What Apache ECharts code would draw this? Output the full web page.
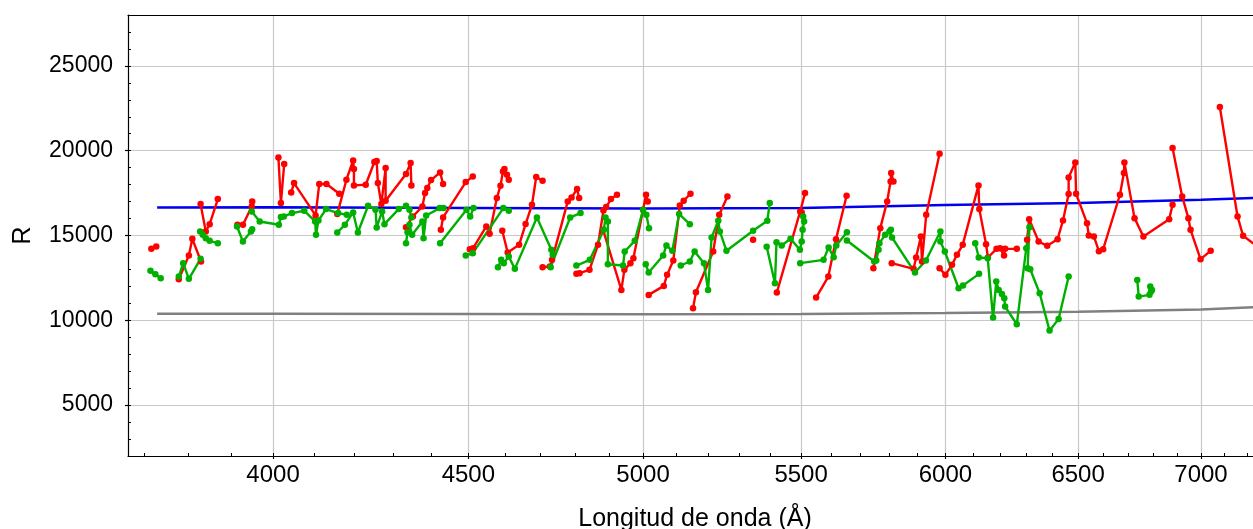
<!DOCTYPE html>
<html>
<head>
<meta charset="utf-8">
<script src="https://cdn.jsdelivr.net/npm/echarts@6/dist/echarts.min.js"></script>
<style>
html,body{margin:0;padding:0;background:#fff}
#chart{width:1253px;height:529px}
</style>
</head>
<body>
<div id="chart"></div>
<script>
// tick labels
const xMajor = [4000, 4500, 5000, 5500, 6000, 6500, 7000];
const xMinor = [3700, 3800, 3900, 4000, 4100, 4200, 4300, 4400, 4500, 4600, 4700, 4800, 4900, 5000,
    5100, 5200, 5300, 5400, 5500, 5600, 5700, 5800, 5900, 6000, 6100, 6200, 6300, 6400, 6500,
    6600, 6700, 6800, 6900, 7000, 7100, 7200];
const yMajor = [5000, 10000, 15000, 20000, 25000];
const yMinor = [3000, 4000, 5000, 6000, 7000, 8000, 9000, 10000, 11000, 12000, 13000, 14000, 15000,
    16000, 17000, 18000, 19000, 20000, 21000, 22000, 23000, 24000, 25000, 26000, 27000, 28000];

// reference curves [wavelength, R]
const blueCurve = [[3730, 16650], [4000, 16660], [4500, 16620], [5000, 16590], [5500, 16620],
    [6000, 16800], [6500, 16910], [7000, 17110], [7262, 17220]];
const grayCurve = [[3730, 10380], [4000, 10380], [4500, 10370], [5000, 10355], [5500, 10370],
    [6000, 10430], [6500, 10500], [7000, 10640], [7262, 10800]];

// echelle orders, red
const redOrders = [
    [[3717, 14214], [3728, 14352]],
    [[3779, 12423], [3802, 13820], [3810, 14804], [3830, 13466]],
    [[3829, 16851], [3841, 15237], [3850, 15670], [3869, 17146]],
    [[3915, 15631], [3928, 15631], [3949, 16713], [3950, 17008]],
    [[4013, 19606], [4019, 16910], [4027, 19213]],
    [[4044, 17540], [4051, 18091], [4104, 16182], [4113, 18032], [4131, 18032], [4163, 17461]],
    [[4158, 16261], [4181, 18288], [4198, 19429], [4200, 18917], [4200, 17953], [4230, 17992],
        [4252, 19331], [4258, 19390], [4261, 18091], [4270, 16851], [4281, 18976], [4281, 17048],
        [4334, 18622], [4346, 19272], [4348, 17953]],
    [[4334, 15493], [4352, 16123], [4377, 16713], [4384, 17500], [4390, 17796], [4400, 18268],
        [4424, 18721], [4432, 18032]],
    [[4426, 15336], [4432, 16064], [4493, 18150], [4512, 18485]],
    [[4504, 14195], [4513, 14254], [4549, 15533], [4558, 15100], [4578, 17206], [4588, 17934],
        [4595, 18780], [4599, 18918], [4606, 18583], [4611, 18288]],
    [[4593, 15277], [4608, 13998], [4640, 14450], [4658, 15671], [4676, 16812], [4688, 18446], [4706, 18229]],
    [[4706, 13132], [4727, 13171], [4733, 13565], [4778, 17009], [4789, 17245], [4805, 17737], [4811, 17206]],
    [[4803, 12738], [4812, 12778], [4841, 12974], [4866, 14450], [4882, 16477], [4890, 16674],
        [4904, 17147], [4922, 17402]],
    [[4881, 15336], [4935, 11794], [4944, 12974], [4962, 13368], [4971, 13663], [5000, 16517],
        [5009, 17402], [5014, 17009]],
    [[5017, 11498], [5063, 12029], [5073, 12679], [5092, 13525], [5112, 16772], [5124, 17048], [5145, 17461]],
    [[5153, 10710], [5162, 11656], [5216, 14056], [5235, 16221], [5261, 17304]],
    [[5343, 14745]],
    [[5420, 11636], [5497, 16418], [5502, 16359], [5513, 17501]],
    [[5550, 11341], [5591, 12581], [5617, 14785], [5653, 17343]],
    [[5745, 13073], [5769, 15434], [5793, 17009], [5805, 18190], [5807, 18682], [5815, 18190]],
    [[5809, 13368], [5886, 13034], [5895, 13703], [5912, 14942], [5916, 13466], [5931, 16222], [5979, 19823]],
    [[5979, 13072], [6000, 12679], [6024, 13269], [6042, 13860], [6063, 14450], [6121, 17953],
        [6124, 16556], [6149, 14489], [6156, 13702], [6188, 14214], [6201, 14253], [6216, 13820],
        [6220, 14214], [6264, 14214]],
    [[6303, 14745], [6311, 15965], [6347, 14647], [6380, 14391], [6420, 14785], [6441, 15886],
        [6463, 17441], [6463, 18425], [6489, 19311], [6492, 17461], [6535, 15729], [6542, 15001],
        [6562, 14942], [6582, 14076], [6599, 14194], [6666, 17402], [6682, 18681], [6684, 19311],
        [6725, 16024], [6761, 14942], [6867, 15965], [6881, 16811]],
    [[6881, 20157], [6921, 17303], [6947, 16024], [6956, 15336], [6998, 13604], [7041, 14096]],
    [[7080, 22578], [7156, 16123], [7180, 14981], [7227, 14509], [7260, 14100]]
];

// echelle orders, green
const greenOrders = [
    [[3715, 12915], [3726, 12718], [3738, 12482]],
    [[3779, 12580], [3789, 13368], [3802, 12443], [3829, 13624]],
    [[3828, 15237], [3834, 15040], [3841, 14844], [3850, 14686], [3869, 14548]],
    [[3914, 15532], [3928, 14647], [3947, 15237], [3950, 15375]],
    [[3949, 16418], [3968, 15828], [4014, 15631], [4019, 16084], [4026, 16123], [4046, 16320],
        [4076, 16458], [4103, 15828], [4105, 15040], [4111, 15887], [4130, 16556], [4160, 16320], [4182, 16221]],
    [[4158, 15178], [4177, 15631], [4198, 16359], [4210, 15178], [4236, 16753], [4255, 16516],
        [4258, 15473], [4272, 16418], [4278, 15670], [4315, 16556], [4334, 16753], [4343, 16516], [4348, 16064]],
    [[4334, 14548], [4338, 15198], [4343, 15631], [4350, 15040], [4377, 15828], [4380, 14844],
        [4387, 16182], [4423, 16615], [4433, 16615]],
    [[4424, 14548], [4495, 16516], [4505, 16123], [4514, 16615]],
    [[4493, 13820], [4512, 13958], [4596, 16615], [4611, 16458]],
    [[4581, 13132], [4590, 13564], [4597, 13368], [4611, 13761], [4628, 13033], [4690, 16064],
        [4731, 14155], [4735, 13860], [4729, 13132], [4785, 16064], [4815, 16320]],
    [[4803, 13230], [4842, 13564], [4883, 15336], [4888, 16064], [4895, 15828], [4895, 13309],
        [4940, 13230], [4945, 14056], [4975, 14686], [5000, 16516], [5010, 16221], [5018, 15434]],
    [[5008, 13309], [5017, 12817], [5061, 13820], [5071, 14411], [5089, 14096], [5110, 16261], [5143, 15670]],
    [[5115, 13230], [5143, 13466], [5158, 14056], [5187, 13368], [5200, 11793], [5211, 14883],
        [5232, 15867], [5237, 15237], [5258, 14096], [5343, 15277], [5389, 15867], [5397, 16910]],
    [[5387, 14332], [5414, 12187], [5419, 14607], [5436, 14411], [5465, 14804], [5496, 14155],
        [5502, 14647], [5505, 15336], [5510, 15828], [5507, 16123]],
    [[5497, 13368], [5575, 13564], [5592, 14292], [5609, 13722], [5618, 14411], [5654, 15198]],
    [[5654, 14706], [5748, 13466], [5755, 13525], [5763, 14155], [5766, 14548], [5786, 15040],
        [5801, 15237], [5806, 15336], [5810, 14883], [5891, 12816], [5930, 13525], [5982, 15237],
        [5982, 14647], [5998, 14056], [6048, 11892], [6064, 12049], [6123, 12738]],
    [[6109, 14548], [6122, 13702], [6155, 13663], [6175, 10160], [6187, 12285], [6196, 11793],
        [6208, 11557], [6217, 11301], [6220, 10809], [6264, 9766], [6300, 14253], [6312, 15493],
        [6305, 13072], [6315, 13013], [6351, 11596], [6389, 9392], [6424, 10081], [6463, 12580]],
    [[6736, 12383], [6742, 11399], [6786, 11500], [6792, 11695], [6796, 11793], [6789, 11990]]
];

// x is drawn on a log scale: feed ln(wavelength) to a value axis
const lnX = p => [Math.log(p[0]), p[1]];
const joinOrders = orders => {
    let out = [];
    orders.forEach((seg, i) => {
        if (i > 0) out.push(['-', '-']);
        seg.forEach(p => out.push(lnX(p)));
    });
    return out;
};

// the right spine of the original sits just outside the picture
const xMin = Math.log(3665), xMax = Math.log(7223);
const font = "'Liberation Sans', Arial, sans-serif";

var myChart = echarts.init(document.getElementById('chart'));

let lineSeries = (name, data, color, width, symbols) => ({
    name: name,
    type: 'line',
    data: data,
    showSymbol: symbols,
    showAllSymbol: true,
    symbol: 'circle',
    symbolSize: 6.5,
    lineStyle: { color: color, width: width },
    itemStyle: { color: color },
    connectNulls: false,
    animation: false
});

let options = {
    animation: false,
    grid: { left: 128, top: 15, right: 0, bottom: 73, show: false, outerBoundsMode: 'none', containLabel: false },
    xAxis: [{
        type: 'value',
        min: xMin, max: xMax,
        name: 'Longitud de onda (Å)',
        nameLocation: 'middle',
        nameGap: 51,
        nameTextStyle: { fontFamily: font, fontSize: 25, color: '#000', padding: [0, 0, 0, 9] },
        axisLine: { lineStyle: { color: '#000', width: 1.2 } },
        axisTick: { customValues: xMajor.map(v => Math.log(v)), length: 3, lineStyle: { color: '#000', width: 1.2 } },
        axisLabel: {
            customValues: xMajor.map(v => Math.log(v)),
            formatter: v => String(Math.round(Math.exp(v))),
            fontFamily: font, fontSize: 24, color: '#000', margin: 7
        },
        splitLine: { show: true, lineStyle: { color: '#c8c8c8', width: 1.2 } }
    }, {
        type: 'value',
        min: xMin, max: xMax,
        position: 'bottom',
        axisLine: { show: false },
        axisLabel: { show: false },
        splitLine: { show: false },
        axisTick: { customValues: xMinor.map(v => Math.log(v)), inside: true, length: 3, lineStyle: { color: '#000', width: 1 } }
    }, {
        type: 'value',
        min: xMin, max: xMax,
        position: 'top',
        axisLine: { show: true, lineStyle: { color: '#000', width: 1.2 } },
        axisLabel: { show: false },
        axisTick: { show: false },
        splitLine: { show: false }
    }],
    yAxis: [{
        type: 'value',
        min: 2000, max: 28000,
        name: 'R',
        nameLocation: 'middle',
        nameGap: 92,
        nameTextStyle: { fontFamily: font, fontSize: 25, color: '#000' },
        axisLine: { show: true, lineStyle: { color: '#000', width: 1.2 } },
        axisTick: { show: true, customValues: yMajor, length: 3, lineStyle: { color: '#000', width: 1.2 } },
        axisLabel: { customValues: yMajor, formatter: v => String(v), fontFamily: font, fontSize: 23, color: '#000', margin: 15 },
        splitLine: { show: true, lineStyle: { color: '#c8c8c8', width: 1.2 } }
    }, {
        type: 'value',
        min: 2000, max: 28000,
        position: 'left',
        axisLine: { show: false },
        axisLabel: { show: false },
        splitLine: { show: false },
        axisTick: { show: true, customValues: yMinor, inside: true, length: 3, lineStyle: { color: '#000', width: 1 } }
    }],
    series: [
        lineSeries('blue', blueCurve.map(lnX), '#0000f0', 2.5, false),
        lineSeries('gray', grayCurve.map(lnX), '#808080', 2.5, false),
        lineSeries('red', joinOrders(redOrders), '#ff0000', 2.4, true),
        lineSeries('green', joinOrders(greenOrders), '#00b000', 2.4, true)
    ]
};
// 绘制图表
myChart.setOption(options, true);
</script>
</body>
</html>
